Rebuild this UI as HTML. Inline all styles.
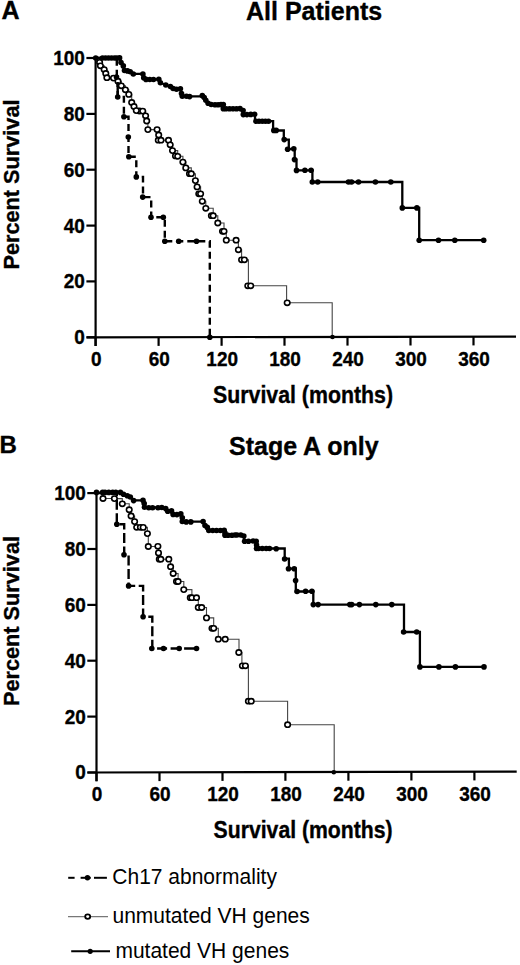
<!DOCTYPE html>
<html><head><meta charset="utf-8"><style>
html,body{margin:0;padding:0;background:#fff;}
body{width:520px;height:965px;overflow:hidden;}
svg{display:block;}
</style></head><body>
<svg width="520" height="965" viewBox="0 0 520 965">
<rect width="520" height="965" fill="#fff"/>
<g font-family="&quot;Liberation Sans&quot;, sans-serif" fill="#000">
<text x="1.4" y="18.8" font-size="25" font-weight="bold" text-anchor="start" stroke="#000" stroke-width="0.35">A</text>
<text x="246" y="20.3" font-size="25" font-weight="bold" text-anchor="start" stroke="#000" stroke-width="0.35">All Patients</text>
<text x="0" y="0" font-size="22" font-weight="bold" text-anchor="start" stroke="#000" stroke-width="0.35" transform="translate(18.6 269.5) rotate(-90)" textLength="170" lengthAdjust="spacingAndGlyphs">Percent Survival</text>
<text x="213" y="402.8" font-size="23" font-weight="bold" text-anchor="start" stroke="#000" stroke-width="0.35" textLength="180" lengthAdjust="spacingAndGlyphs">Survival (months)</text>
<line x1="95.6" y1="57" x2="95.6" y2="346" stroke="#000" stroke-width="2.2"/>
<line x1="86.6" y1="337.3" x2="516" y2="336.6" stroke="#000" stroke-width="2.2"/>
<line x1="86.4" y1="58" x2="95.6" y2="58" stroke="#000" stroke-width="2.2"/>
<line x1="86.4" y1="113.9" x2="95.6" y2="113.9" stroke="#000" stroke-width="2.2"/>
<line x1="86.4" y1="169.7" x2="95.6" y2="169.7" stroke="#000" stroke-width="2.2"/>
<line x1="86.4" y1="225.6" x2="95.6" y2="225.6" stroke="#000" stroke-width="2.2"/>
<line x1="86.4" y1="281.4" x2="95.6" y2="281.4" stroke="#000" stroke-width="2.2"/>
<line x1="86.4" y1="337.3" x2="95.6" y2="337.3" stroke="#000" stroke-width="2.2"/>
<line x1="95.6" y1="337.3" x2="95.6" y2="346" stroke="#000" stroke-width="2.2"/>
<line x1="158.6" y1="337.2" x2="158.6" y2="345.9" stroke="#000" stroke-width="2.2"/>
<line x1="221.6" y1="337.1" x2="221.6" y2="345.8" stroke="#000" stroke-width="2.2"/>
<line x1="284.5" y1="337" x2="284.5" y2="345.7" stroke="#000" stroke-width="2.2"/>
<line x1="347.5" y1="336.9" x2="347.5" y2="345.6" stroke="#000" stroke-width="2.2"/>
<line x1="410.5" y1="336.8" x2="410.5" y2="345.5" stroke="#000" stroke-width="2.2"/>
<line x1="473.5" y1="336.7" x2="473.5" y2="345.4" stroke="#000" stroke-width="2.2"/>
<text x="0" y="0" font-size="20.3" font-weight="bold" text-anchor="end" stroke="#000" stroke-width="0.35" transform="translate(84.9 64.9) scale(0.935 1)">100</text>
<text x="0" y="0" font-size="20.3" font-weight="bold" text-anchor="end" stroke="#000" stroke-width="0.35" transform="translate(84.9 120.8) scale(0.935 1)">80</text>
<text x="0" y="0" font-size="20.3" font-weight="bold" text-anchor="end" stroke="#000" stroke-width="0.35" transform="translate(84.9 176.6) scale(0.935 1)">60</text>
<text x="0" y="0" font-size="20.3" font-weight="bold" text-anchor="end" stroke="#000" stroke-width="0.35" transform="translate(84.9 232.5) scale(0.935 1)">40</text>
<text x="0" y="0" font-size="20.3" font-weight="bold" text-anchor="end" stroke="#000" stroke-width="0.35" transform="translate(84.9 288.3) scale(0.935 1)">20</text>
<text x="0" y="0" font-size="20.3" font-weight="bold" text-anchor="end" stroke="#000" stroke-width="0.35" transform="translate(84.9 344.2) scale(0.935 1)">0</text>
<text x="0" y="0" font-size="20.3" font-weight="bold" text-anchor="middle" stroke="#000" stroke-width="0.35" transform="translate(96.2 365.8) scale(0.935 1)">0</text>
<text x="0" y="0" font-size="20.3" font-weight="bold" text-anchor="middle" stroke="#000" stroke-width="0.35" transform="translate(159.2 365.8) scale(0.935 1)">60</text>
<text x="0" y="0" font-size="20.3" font-weight="bold" text-anchor="middle" stroke="#000" stroke-width="0.35" transform="translate(222.2 365.8) scale(0.935 1)">120</text>
<text x="0" y="0" font-size="20.3" font-weight="bold" text-anchor="middle" stroke="#000" stroke-width="0.35" transform="translate(285.1 365.8) scale(0.935 1)">180</text>
<text x="0" y="0" font-size="20.3" font-weight="bold" text-anchor="middle" stroke="#000" stroke-width="0.35" transform="translate(348.1 365.8) scale(0.935 1)">240</text>
<text x="0" y="0" font-size="20.3" font-weight="bold" text-anchor="middle" stroke="#000" stroke-width="0.35" transform="translate(411.1 365.8) scale(0.935 1)">300</text>
<text x="0" y="0" font-size="20.3" font-weight="bold" text-anchor="middle" stroke="#000" stroke-width="0.35" transform="translate(474.1 365.8) scale(0.935 1)">360</text>
<path d="M95.6 58 L99.6 58 L99.6 62.3 L100.4 62.3 L100.4 65.8 L104.2 65.8 L104.2 69.6 L105.8 69.6 L105.8 73.5 L106.9 73.5 L106.9 77.7 L113.5 77.7 L113.5 78.1 L118 78.1 L118 81.2 L121.3 81.2 L121.3 85.8 L125.4 85.8 L125.4 89.8 L128.8 89.8 L128.8 94.4 L131.7 94.4 L131.7 102.5 L134 102.5 L134 106.5 L136.3 106.5 L136.3 110.6 L142.7 110.6 L142.7 111.1 L145.6 111.1 L145.6 115.8 L146.7 115.8 L146.7 121 L147.9 121 L147.9 129.6 L157.1 129.6 L158.7 129.6 L158.7 135 L161 135 L161 140.2 L168.5 140.2 L170.2 140.2 L170.2 144.8 L172.5 144.8 L172.5 150.6 L177.7 150.6 L177.7 156.3 L182.9 156.3 L182.9 162.1 L185.8 162.1 L185.8 167.9 L191.3 167.9 L191.3 173.7 L195.4 173.7 L195.4 180.6 L197.1 180.6 L197.1 186.9 L200.6 186.9 L200.6 193.8 L202.3 193.8 L202.3 201.3 L205.8 201.3 L205.8 208.3 L213.2 208.3 L213.2 215.7 L217.8 215.7 L217.8 223 L224 223 L224 231.3 L226.3 231.3 L226.3 240.2 L236.1 240.2 L238.4 240.2 L238.4 249.8 L241.6 249.8 L241.6 259.8 L244.4 259.8 L248.4 259.8 L248.4 285.8 L286.6 285.8 L286.6 302.8 L332.2 302.8 L332.2 336.7" fill="none" stroke="#444" stroke-width="1.1" stroke-linejoin="miter"/>
<path d="M95.6 58 L116.8 58 L116.8 77 L117.7 77 L117.7 97 L123.9 97 L123.9 116.8 L128.5 116.8 L128.5 137 L128.5 156.8 L136.3 156.8 L136.3 176.9 L143 176.9 L143 197.1 L151.2 197.1 L151.2 217.3 L164.8 217.3 L164.8 241.3 L209.8 241.3 L209.8 337.3" fill="none" stroke="#000" stroke-width="2.4" stroke-linejoin="miter" stroke-dasharray="7 4"/>
<path d="M95.6 58 L119.6 58 L121 62.5 L123.3 65.9 L124.5 70.5 L127.5 70.9 L130.2 71.7 L133.3 73.8 L142.9 73.8 L143.7 77.8 L146 79.4 L158.8 79.4 L160.4 82.7 L165.8 85 L170.4 86.5 L173.1 88.5 L180.4 88.5 L181.5 93.5 L182.3 96.3 L202 96.3 L204.2 97.5 L205.8 100.2 L208.1 103.3 L211.2 104.6 L223.3 104.6 L223.3 108.8 L240.5 108.8 L243.1 110.5 L243.3 114.5 L255 114.5 L255 121.2 L273.1 121.2 L273.1 130.5 L283.8 130.5 L283.8 139.6 L288.8 139.6 L288.8 149 L294.7 149 L294.7 159.6 L296.5 159.6 L296.5 170.3 L312.4 170.3 L312.4 182 L402.3 182 L402.3 207.9 L419.2 207.9 L419.2 240.2 L483.7 240.2" fill="none" stroke="#000" stroke-width="2.3" stroke-linejoin="miter"/>
<ellipse cx="139.5" cy="111" rx="2.75" ry="2.6" fill="#fff" stroke="#000" stroke-width="1.6"/>
<ellipse cx="158.3" cy="140.2" rx="2.75" ry="2.6" fill="#fff" stroke="#000" stroke-width="1.6"/>
<ellipse cx="175.5" cy="155.9" rx="2.75" ry="2.6" fill="#fff" stroke="#000" stroke-width="1.6"/>
<ellipse cx="189.5" cy="173.7" rx="2.75" ry="2.6" fill="#fff" stroke="#000" stroke-width="1.6"/>
<ellipse cx="198.8" cy="193.8" rx="2.75" ry="2.6" fill="#fff" stroke="#000" stroke-width="1.6"/>
<ellipse cx="211.4" cy="215.7" rx="2.75" ry="2.6" fill="#fff" stroke="#000" stroke-width="1.6"/>
<ellipse cx="222.5" cy="231.3" rx="2.75" ry="2.6" fill="#fff" stroke="#000" stroke-width="1.6"/>
<ellipse cx="99.6" cy="62.3" rx="2.75" ry="2.6" fill="#fff" stroke="#000" stroke-width="1.6"/>
<ellipse cx="100.4" cy="65.8" rx="2.75" ry="2.6" fill="#fff" stroke="#000" stroke-width="1.6"/>
<ellipse cx="104.2" cy="69.6" rx="2.75" ry="2.6" fill="#fff" stroke="#000" stroke-width="1.6"/>
<ellipse cx="105.8" cy="73.5" rx="2.75" ry="2.6" fill="#fff" stroke="#000" stroke-width="1.6"/>
<ellipse cx="106.9" cy="77.7" rx="2.75" ry="2.6" fill="#fff" stroke="#000" stroke-width="1.6"/>
<ellipse cx="113.5" cy="78.1" rx="2.75" ry="2.6" fill="#fff" stroke="#000" stroke-width="1.6"/>
<ellipse cx="118" cy="81.2" rx="2.75" ry="2.6" fill="#fff" stroke="#000" stroke-width="1.6"/>
<ellipse cx="121.3" cy="85.8" rx="2.75" ry="2.6" fill="#fff" stroke="#000" stroke-width="1.6"/>
<ellipse cx="125.4" cy="89.8" rx="2.75" ry="2.6" fill="#fff" stroke="#000" stroke-width="1.6"/>
<ellipse cx="128.8" cy="94.4" rx="2.75" ry="2.6" fill="#fff" stroke="#000" stroke-width="1.6"/>
<ellipse cx="131.7" cy="102.5" rx="2.75" ry="2.6" fill="#fff" stroke="#000" stroke-width="1.6"/>
<ellipse cx="134" cy="106.5" rx="2.75" ry="2.6" fill="#fff" stroke="#000" stroke-width="1.6"/>
<ellipse cx="136.3" cy="110.6" rx="2.75" ry="2.6" fill="#fff" stroke="#000" stroke-width="1.6"/>
<ellipse cx="142.7" cy="111.1" rx="2.75" ry="2.6" fill="#fff" stroke="#000" stroke-width="1.6"/>
<ellipse cx="145.6" cy="115.8" rx="2.75" ry="2.6" fill="#fff" stroke="#000" stroke-width="1.6"/>
<ellipse cx="146.7" cy="121" rx="2.75" ry="2.6" fill="#fff" stroke="#000" stroke-width="1.6"/>
<ellipse cx="147.9" cy="129.6" rx="2.75" ry="2.6" fill="#fff" stroke="#000" stroke-width="1.6"/>
<ellipse cx="157.1" cy="129.6" rx="2.75" ry="2.6" fill="#fff" stroke="#000" stroke-width="1.6"/>
<ellipse cx="158.7" cy="135" rx="2.75" ry="2.6" fill="#fff" stroke="#000" stroke-width="1.6"/>
<ellipse cx="161" cy="140.2" rx="2.75" ry="2.6" fill="#fff" stroke="#000" stroke-width="1.6"/>
<ellipse cx="168.5" cy="140.2" rx="2.75" ry="2.6" fill="#fff" stroke="#000" stroke-width="1.6"/>
<ellipse cx="170.2" cy="144.8" rx="2.75" ry="2.6" fill="#fff" stroke="#000" stroke-width="1.6"/>
<ellipse cx="172.5" cy="150.6" rx="2.75" ry="2.6" fill="#fff" stroke="#000" stroke-width="1.6"/>
<ellipse cx="177.7" cy="156.3" rx="2.75" ry="2.6" fill="#fff" stroke="#000" stroke-width="1.6"/>
<ellipse cx="182.9" cy="162.1" rx="2.75" ry="2.6" fill="#fff" stroke="#000" stroke-width="1.6"/>
<ellipse cx="185.8" cy="167.9" rx="2.75" ry="2.6" fill="#fff" stroke="#000" stroke-width="1.6"/>
<ellipse cx="191.3" cy="173.7" rx="2.75" ry="2.6" fill="#fff" stroke="#000" stroke-width="1.6"/>
<ellipse cx="195.4" cy="180.6" rx="2.75" ry="2.6" fill="#fff" stroke="#000" stroke-width="1.6"/>
<ellipse cx="197.1" cy="186.9" rx="2.75" ry="2.6" fill="#fff" stroke="#000" stroke-width="1.6"/>
<ellipse cx="200.6" cy="193.8" rx="2.75" ry="2.6" fill="#fff" stroke="#000" stroke-width="1.6"/>
<ellipse cx="202.3" cy="201.3" rx="2.75" ry="2.6" fill="#fff" stroke="#000" stroke-width="1.6"/>
<ellipse cx="205.8" cy="208.3" rx="2.75" ry="2.6" fill="#fff" stroke="#000" stroke-width="1.6"/>
<ellipse cx="213.2" cy="215.7" rx="2.75" ry="2.6" fill="#fff" stroke="#000" stroke-width="1.6"/>
<ellipse cx="217.8" cy="223" rx="2.75" ry="2.6" fill="#fff" stroke="#000" stroke-width="1.6"/>
<ellipse cx="224" cy="231.3" rx="2.75" ry="2.6" fill="#fff" stroke="#000" stroke-width="1.6"/>
<ellipse cx="226.3" cy="240.2" rx="2.75" ry="2.6" fill="#fff" stroke="#000" stroke-width="1.6"/>
<ellipse cx="236.1" cy="240.2" rx="2.75" ry="2.6" fill="#fff" stroke="#000" stroke-width="1.6"/>
<ellipse cx="238.4" cy="249.8" rx="2.75" ry="2.6" fill="#fff" stroke="#000" stroke-width="1.6"/>
<ellipse cx="241.6" cy="259.8" rx="2.75" ry="2.6" fill="#fff" stroke="#000" stroke-width="1.6"/>
<ellipse cx="244.4" cy="259.8" rx="2.75" ry="2.6" fill="#fff" stroke="#000" stroke-width="1.6"/>
<ellipse cx="247.8" cy="285.8" rx="2.75" ry="2.6" fill="#fff" stroke="#000" stroke-width="1.6"/>
<ellipse cx="250.7" cy="285.8" rx="2.75" ry="2.6" fill="#fff" stroke="#000" stroke-width="1.6"/>
<ellipse cx="287.2" cy="302.8" rx="2.75" ry="2.6" fill="#fff" stroke="#000" stroke-width="1.6"/>
<circle cx="332.5" cy="337" r="2.3"/>
<line x1="117.7" y1="82" x2="117.7" y2="97" stroke="#000" stroke-width="2.4"/>
<circle cx="116.5" cy="77" r="2.8"/>
<circle cx="117.7" cy="97" r="2.8"/>
<circle cx="123.9" cy="116.8" r="2.8"/>
<circle cx="128.3" cy="137" r="2.8"/>
<circle cx="128.8" cy="156.8" r="2.8"/>
<circle cx="136.3" cy="176.9" r="2.8"/>
<circle cx="142.7" cy="197.1" r="2.8"/>
<circle cx="151" cy="217.3" r="2.8"/>
<circle cx="163.3" cy="217.3" r="2.8"/>
<circle cx="164.8" cy="241.3" r="2.8"/>
<circle cx="178.7" cy="241.3" r="2.8"/>
<circle cx="196.5" cy="241.3" r="2.8"/>
<circle cx="209.8" cy="337.3" r="2.8"/>
<circle cx="95.7" cy="58" r="2.8"/>
<circle cx="102.5" cy="58" r="2.8"/>
<circle cx="105.5" cy="58" r="2.8"/>
<circle cx="108.5" cy="58" r="2.8"/>
<circle cx="111.5" cy="58" r="2.8"/>
<circle cx="114.5" cy="58" r="2.8"/>
<circle cx="116.8" cy="58" r="2.8"/>
<circle cx="119.6" cy="57.9" r="2.8"/>
<circle cx="121" cy="62.5" r="2.8"/>
<circle cx="123.3" cy="65.9" r="2.8"/>
<circle cx="124.5" cy="70.5" r="2.8"/>
<circle cx="127.5" cy="70.9" r="2.8"/>
<circle cx="130.2" cy="71.7" r="2.8"/>
<circle cx="133.3" cy="74" r="2.8"/>
<circle cx="142.9" cy="74" r="2.8"/>
<circle cx="143.7" cy="77.8" r="2.8"/>
<circle cx="146" cy="79.4" r="2.8"/>
<circle cx="149.8" cy="79.5" r="2.8"/>
<circle cx="153.5" cy="79.5" r="2.8"/>
<circle cx="158.8" cy="79.2" r="2.8"/>
<circle cx="160.4" cy="82.7" r="2.8"/>
<circle cx="165.8" cy="85" r="2.8"/>
<circle cx="170.4" cy="86.5" r="2.8"/>
<circle cx="173.1" cy="88.5" r="2.8"/>
<circle cx="176.5" cy="89.2" r="2.8"/>
<circle cx="180.4" cy="88.8" r="2.8"/>
<circle cx="181.5" cy="93.5" r="2.8"/>
<circle cx="182.3" cy="96.2" r="2.8"/>
<circle cx="186.5" cy="96.2" r="2.8"/>
<circle cx="189.6" cy="96.6" r="2.8"/>
<circle cx="202.3" cy="95.6" r="2.8"/>
<circle cx="204.2" cy="97.5" r="2.8"/>
<circle cx="205.8" cy="100.2" r="2.8"/>
<circle cx="208.1" cy="103.3" r="2.8"/>
<circle cx="211.2" cy="104.5" r="2.8"/>
<circle cx="215" cy="104.8" r="2.8"/>
<circle cx="218.1" cy="104.8" r="2.8"/>
<circle cx="221" cy="104.6" r="2.8"/>
<circle cx="223.3" cy="104.5" r="2.8"/>
<circle cx="223.3" cy="108.8" r="2.8"/>
<circle cx="226" cy="108.8" r="2.8"/>
<circle cx="229.5" cy="108.8" r="2.8"/>
<circle cx="233" cy="108.8" r="2.8"/>
<circle cx="236.5" cy="108.8" r="2.8"/>
<circle cx="240" cy="108.6" r="2.8"/>
<circle cx="243.1" cy="110.5" r="2.8"/>
<circle cx="243.3" cy="114.6" r="2.8"/>
<circle cx="246.9" cy="114.6" r="2.8"/>
<circle cx="250.8" cy="114.4" r="2.8"/>
<circle cx="254.6" cy="114.2" r="2.8"/>
<circle cx="256" cy="121.2" r="2.8"/>
<circle cx="259" cy="121.2" r="2.8"/>
<circle cx="262.3" cy="121.2" r="2.8"/>
<circle cx="265.4" cy="121.2" r="2.8"/>
<circle cx="268.5" cy="121.2" r="2.8"/>
<circle cx="273.8" cy="130.4" r="2.8"/>
<circle cx="276.2" cy="130.4" r="2.8"/>
<circle cx="284.2" cy="139.6" r="2.8"/>
<circle cx="287.6" cy="149.2" r="2.8"/>
<circle cx="293.8" cy="148.8" r="2.8"/>
<circle cx="294.5" cy="159.6" r="2.8"/>
<circle cx="296.5" cy="170.4" r="2.8"/>
<circle cx="304.9" cy="170.2" r="2.8"/>
<circle cx="311.1" cy="170.2" r="2.8"/>
<circle cx="312.3" cy="182" r="2.8"/>
<circle cx="317.7" cy="182" r="2.8"/>
<circle cx="348.5" cy="182" r="2.8"/>
<circle cx="351.5" cy="182" r="2.8"/>
<circle cx="358.5" cy="182" r="2.8"/>
<circle cx="375.4" cy="182" r="2.8"/>
<circle cx="390.8" cy="182" r="2.8"/>
<circle cx="402.3" cy="207.9" r="2.8"/>
<circle cx="416.9" cy="207.9" r="2.8"/>
<circle cx="419.2" cy="240.2" r="2.8"/>
<circle cx="438.5" cy="240.2" r="2.8"/>
<circle cx="454.8" cy="240.2" r="2.8"/>
<circle cx="483.7" cy="240.2" r="2.8"/>
<text x="-0.4" y="453.4" font-size="24" font-weight="bold" text-anchor="start" stroke="#000" stroke-width="0.35">B</text>
<text x="229" y="455.2" font-size="25" font-weight="bold" text-anchor="start" stroke="#000" stroke-width="0.35">Stage A only</text>
<text x="0" y="0" font-size="22" font-weight="bold" text-anchor="start" stroke="#000" stroke-width="0.35" transform="translate(18.6 706) rotate(-90)" textLength="170" lengthAdjust="spacingAndGlyphs">Percent Survival</text>
<text x="213.6" y="837.9" font-size="23" font-weight="bold" text-anchor="start" stroke="#000" stroke-width="0.35" textLength="179" lengthAdjust="spacingAndGlyphs">Survival (months)</text>
<line x1="96.5" y1="492.1" x2="96.5" y2="781.2" stroke="#000" stroke-width="2.2"/>
<line x1="87.5" y1="772.5" x2="516.7" y2="771.6" stroke="#000" stroke-width="2.2"/>
<line x1="87.3" y1="493.1" x2="96.5" y2="493.1" stroke="#000" stroke-width="2.2"/>
<line x1="87.3" y1="549" x2="96.5" y2="549" stroke="#000" stroke-width="2.2"/>
<line x1="87.3" y1="604.9" x2="96.5" y2="604.9" stroke="#000" stroke-width="2.2"/>
<line x1="87.3" y1="660.7" x2="96.5" y2="660.7" stroke="#000" stroke-width="2.2"/>
<line x1="87.3" y1="716.6" x2="96.5" y2="716.6" stroke="#000" stroke-width="2.2"/>
<line x1="87.3" y1="772.5" x2="96.5" y2="772.5" stroke="#000" stroke-width="2.2"/>
<line x1="96.5" y1="772.5" x2="96.5" y2="781.2" stroke="#000" stroke-width="2.2"/>
<line x1="159.5" y1="772.4" x2="159.5" y2="781.1" stroke="#000" stroke-width="2.2"/>
<line x1="222.5" y1="772.2" x2="222.5" y2="780.9" stroke="#000" stroke-width="2.2"/>
<line x1="285.4" y1="772.1" x2="285.4" y2="780.8" stroke="#000" stroke-width="2.2"/>
<line x1="348.4" y1="772" x2="348.4" y2="780.7" stroke="#000" stroke-width="2.2"/>
<line x1="411.4" y1="771.8" x2="411.4" y2="780.5" stroke="#000" stroke-width="2.2"/>
<line x1="474.4" y1="771.7" x2="474.4" y2="780.4" stroke="#000" stroke-width="2.2"/>
<text x="0" y="0" font-size="20.3" font-weight="bold" text-anchor="end" stroke="#000" stroke-width="0.35" transform="translate(85.8 500) scale(0.935 1)">100</text>
<text x="0" y="0" font-size="20.3" font-weight="bold" text-anchor="end" stroke="#000" stroke-width="0.35" transform="translate(85.8 555.9) scale(0.935 1)">80</text>
<text x="0" y="0" font-size="20.3" font-weight="bold" text-anchor="end" stroke="#000" stroke-width="0.35" transform="translate(85.8 611.8) scale(0.935 1)">60</text>
<text x="0" y="0" font-size="20.3" font-weight="bold" text-anchor="end" stroke="#000" stroke-width="0.35" transform="translate(85.8 667.6) scale(0.935 1)">40</text>
<text x="0" y="0" font-size="20.3" font-weight="bold" text-anchor="end" stroke="#000" stroke-width="0.35" transform="translate(85.8 723.5) scale(0.935 1)">20</text>
<text x="0" y="0" font-size="20.3" font-weight="bold" text-anchor="end" stroke="#000" stroke-width="0.35" transform="translate(85.8 779.4) scale(0.935 1)">0</text>
<text x="0" y="0" font-size="20.3" font-weight="bold" text-anchor="middle" stroke="#000" stroke-width="0.35" transform="translate(97.1 800.8) scale(0.935 1)">0</text>
<text x="0" y="0" font-size="20.3" font-weight="bold" text-anchor="middle" stroke="#000" stroke-width="0.35" transform="translate(160.1 800.8) scale(0.935 1)">60</text>
<text x="0" y="0" font-size="20.3" font-weight="bold" text-anchor="middle" stroke="#000" stroke-width="0.35" transform="translate(223.1 800.8) scale(0.935 1)">120</text>
<text x="0" y="0" font-size="20.3" font-weight="bold" text-anchor="middle" stroke="#000" stroke-width="0.35" transform="translate(286 800.8) scale(0.935 1)">180</text>
<text x="0" y="0" font-size="20.3" font-weight="bold" text-anchor="middle" stroke="#000" stroke-width="0.35" transform="translate(349 800.8) scale(0.935 1)">240</text>
<text x="0" y="0" font-size="20.3" font-weight="bold" text-anchor="middle" stroke="#000" stroke-width="0.35" transform="translate(412 800.8) scale(0.935 1)">300</text>
<text x="0" y="0" font-size="20.3" font-weight="bold" text-anchor="middle" stroke="#000" stroke-width="0.35" transform="translate(475 800.8) scale(0.935 1)">360</text>
<path d="M96.5 493.1 L103 493.1 L103 498.5 L114.4 498.5 L114.4 498.6 L122.3 498.6 L122.3 503.8 L129.2 503.8 L129.2 509.7 L131.1 509.7 L131.1 516 L134.6 516 L134.6 521.6 L136.7 521.6 L136.7 527.3 L140.4 527.3 L143.2 527.3 L143.2 527.4 L147.4 527.4 L147.4 533.6 L148.3 533.6 L148.3 546.5 L157.9 546.5 L157.9 546.3 L158.5 546.3 L158.5 552.9 L160.8 552.9 L160.8 559.2 L168.8 559.2 L170.6 559.2 L170.6 566.7 L173.2 566.7 L173.2 573.5 L178.1 573.5 L178.1 581.5 L183.8 581.5 L183.8 589.6 L191.9 589.6 L191.9 597.7 L196.5 597.7 L198.3 597.7 L198.3 607.5 L201.7 607.5 L206.5 607.5 L206.5 617.9 L213.7 617.9 L213.7 628.3 L218.3 628.3 L218.3 639.2 L225.2 639.2 L239 639.2 L239 652.5 L241.9 652.5 L241.9 665.8 L248.4 665.8 L248.4 701.2 L287.6 701.2 L287.6 724.7 L334.2 724.7 L334.2 772.2" fill="none" stroke="#444" stroke-width="1.1" stroke-linejoin="miter"/>
<path d="M96.5 493.1 L116.8 493.1 L116.8 524.2 L124.2 524.2 L124.2 554.7 L128.6 554.7 L128.6 585.9 L143.1 585.9 L143.1 616.8 L152.3 616.8 L152.3 648.5 L196.5 648.5" fill="none" stroke="#000" stroke-width="2.4" stroke-linejoin="miter" stroke-dasharray="10 3.5"/>
<path d="M96.5 492.6 L120.4 492.6 L123.5 494.3 L127.3 495.8 L130.3 497 L133.4 500.4 L143 500.4 L144.2 503.5 L144.5 507.5 L161.8 507.5 L165.7 508.6 L167.7 511.3 L171.5 510.9 L173.1 514.4 L180.8 514.4 L182.3 517.7 L182.3 521.7 L203.1 521.7 L205 525.5 L207.3 527.4 L208.8 530.5 L224.6 530.5 L224.6 535.2 L243.8 535.2 L244.6 541.2 L256.5 541.2 L256.5 548.5 L284.7 548.5 L284.7 558.6 L288.9 558.6 L288.9 568.7 L295.8 568.7 L295.8 591.5 L313.3 591.5 L313.3 604.6 L404 604.6 L404 632 L419.9 632 L419.9 666.9 L484 666.9" fill="none" stroke="#000" stroke-width="2.3" stroke-linejoin="miter"/>
<ellipse cx="159.3" cy="559.2" rx="2.75" ry="2.6" fill="#fff" stroke="#000" stroke-width="1.6"/>
<ellipse cx="176.5" cy="581.5" rx="2.75" ry="2.6" fill="#fff" stroke="#000" stroke-width="1.6"/>
<ellipse cx="190.3" cy="597.7" rx="2.75" ry="2.6" fill="#fff" stroke="#000" stroke-width="1.6"/>
<ellipse cx="212" cy="628.3" rx="2.75" ry="2.6" fill="#fff" stroke="#000" stroke-width="1.6"/>
<ellipse cx="103" cy="498.5" rx="2.75" ry="2.6" fill="#fff" stroke="#000" stroke-width="1.6"/>
<ellipse cx="114.4" cy="498.6" rx="2.75" ry="2.6" fill="#fff" stroke="#000" stroke-width="1.6"/>
<ellipse cx="122.3" cy="503.8" rx="2.75" ry="2.6" fill="#fff" stroke="#000" stroke-width="1.6"/>
<ellipse cx="129.2" cy="509.7" rx="2.75" ry="2.6" fill="#fff" stroke="#000" stroke-width="1.6"/>
<ellipse cx="131.1" cy="516" rx="2.75" ry="2.6" fill="#fff" stroke="#000" stroke-width="1.6"/>
<ellipse cx="134.6" cy="521.6" rx="2.75" ry="2.6" fill="#fff" stroke="#000" stroke-width="1.6"/>
<ellipse cx="136.7" cy="527.3" rx="2.75" ry="2.6" fill="#fff" stroke="#000" stroke-width="1.6"/>
<ellipse cx="140.4" cy="527.3" rx="2.75" ry="2.6" fill="#fff" stroke="#000" stroke-width="1.6"/>
<ellipse cx="143.2" cy="527.4" rx="2.75" ry="2.6" fill="#fff" stroke="#000" stroke-width="1.6"/>
<ellipse cx="147.4" cy="533.6" rx="2.75" ry="2.6" fill="#fff" stroke="#000" stroke-width="1.6"/>
<ellipse cx="148.3" cy="546.5" rx="2.75" ry="2.6" fill="#fff" stroke="#000" stroke-width="1.6"/>
<ellipse cx="157.9" cy="546.3" rx="2.75" ry="2.6" fill="#fff" stroke="#000" stroke-width="1.6"/>
<ellipse cx="158.5" cy="552.9" rx="2.75" ry="2.6" fill="#fff" stroke="#000" stroke-width="1.6"/>
<ellipse cx="160.8" cy="559.2" rx="2.75" ry="2.6" fill="#fff" stroke="#000" stroke-width="1.6"/>
<ellipse cx="168.8" cy="559.2" rx="2.75" ry="2.6" fill="#fff" stroke="#000" stroke-width="1.6"/>
<ellipse cx="170.6" cy="566.7" rx="2.75" ry="2.6" fill="#fff" stroke="#000" stroke-width="1.6"/>
<ellipse cx="173.2" cy="573.5" rx="2.75" ry="2.6" fill="#fff" stroke="#000" stroke-width="1.6"/>
<ellipse cx="178.1" cy="581.5" rx="2.75" ry="2.6" fill="#fff" stroke="#000" stroke-width="1.6"/>
<ellipse cx="183.8" cy="589.6" rx="2.75" ry="2.6" fill="#fff" stroke="#000" stroke-width="1.6"/>
<ellipse cx="191.9" cy="597.7" rx="2.75" ry="2.6" fill="#fff" stroke="#000" stroke-width="1.6"/>
<ellipse cx="196.5" cy="597.7" rx="2.75" ry="2.6" fill="#fff" stroke="#000" stroke-width="1.6"/>
<ellipse cx="198.3" cy="607.5" rx="2.75" ry="2.6" fill="#fff" stroke="#000" stroke-width="1.6"/>
<ellipse cx="201.7" cy="607.5" rx="2.75" ry="2.6" fill="#fff" stroke="#000" stroke-width="1.6"/>
<ellipse cx="206.5" cy="617.9" rx="2.75" ry="2.6" fill="#fff" stroke="#000" stroke-width="1.6"/>
<ellipse cx="213.7" cy="628.3" rx="2.75" ry="2.6" fill="#fff" stroke="#000" stroke-width="1.6"/>
<ellipse cx="218.3" cy="639.2" rx="2.75" ry="2.6" fill="#fff" stroke="#000" stroke-width="1.6"/>
<ellipse cx="225.2" cy="639.2" rx="2.75" ry="2.6" fill="#fff" stroke="#000" stroke-width="1.6"/>
<ellipse cx="238.8" cy="652.5" rx="2.75" ry="2.6" fill="#fff" stroke="#000" stroke-width="1.6"/>
<ellipse cx="242.4" cy="665.8" rx="2.75" ry="2.6" fill="#fff" stroke="#000" stroke-width="1.6"/>
<ellipse cx="245.4" cy="665.8" rx="2.75" ry="2.6" fill="#fff" stroke="#000" stroke-width="1.6"/>
<ellipse cx="248.4" cy="701.2" rx="2.75" ry="2.6" fill="#fff" stroke="#000" stroke-width="1.6"/>
<ellipse cx="251.2" cy="701.2" rx="2.75" ry="2.6" fill="#fff" stroke="#000" stroke-width="1.6"/>
<ellipse cx="287.6" cy="724.7" rx="2.75" ry="2.6" fill="#fff" stroke="#000" stroke-width="1.6"/>
<circle cx="333.8" cy="772.2" r="2.3"/>
<circle cx="116.8" cy="524.2" r="2.8"/>
<circle cx="124" cy="554.7" r="2.8"/>
<circle cx="128.6" cy="585.9" r="2.8"/>
<circle cx="143.1" cy="616.8" r="2.8"/>
<circle cx="151.8" cy="648.5" r="2.8"/>
<circle cx="163.5" cy="648.5" r="2.8"/>
<circle cx="179.2" cy="648.5" r="2.8"/>
<circle cx="196.5" cy="648.5" r="2.8"/>
<circle cx="96.5" cy="492.4" r="2.8"/>
<circle cx="102.6" cy="492.4" r="2.8"/>
<circle cx="105" cy="492.4" r="2.8"/>
<circle cx="108.8" cy="492.4" r="2.8"/>
<circle cx="112.7" cy="492.4" r="2.8"/>
<circle cx="115.8" cy="492.4" r="2.8"/>
<circle cx="120.4" cy="492.4" r="2.8"/>
<circle cx="123.5" cy="494.3" r="2.8"/>
<circle cx="127.3" cy="495.8" r="2.8"/>
<circle cx="130.3" cy="497" r="2.8"/>
<circle cx="133.6" cy="500.6" r="2.8"/>
<circle cx="143" cy="500.2" r="2.8"/>
<circle cx="144.2" cy="503.5" r="2.8"/>
<circle cx="144.5" cy="507.3" r="2.8"/>
<circle cx="148.8" cy="507.7" r="2.8"/>
<circle cx="152.6" cy="507.7" r="2.8"/>
<circle cx="158" cy="507.7" r="2.8"/>
<circle cx="161.8" cy="507.5" r="2.8"/>
<circle cx="165.7" cy="508.6" r="2.8"/>
<circle cx="167.7" cy="511.3" r="2.8"/>
<circle cx="171.5" cy="510.9" r="2.8"/>
<circle cx="173.1" cy="514.4" r="2.8"/>
<circle cx="176.9" cy="514.6" r="2.8"/>
<circle cx="180.8" cy="513.9" r="2.8"/>
<circle cx="182.3" cy="517.7" r="2.8"/>
<circle cx="182.3" cy="521.5" r="2.8"/>
<circle cx="186.2" cy="521.9" r="2.8"/>
<circle cx="190.8" cy="521.9" r="2.8"/>
<circle cx="203.1" cy="521.6" r="2.8"/>
<circle cx="205" cy="525.5" r="2.8"/>
<circle cx="207.3" cy="527.4" r="2.8"/>
<circle cx="208.8" cy="530.5" r="2.8"/>
<circle cx="212.7" cy="530.5" r="2.8"/>
<circle cx="216.5" cy="530.5" r="2.8"/>
<circle cx="220.4" cy="530.5" r="2.8"/>
<circle cx="224.2" cy="530.2" r="2.8"/>
<circle cx="225" cy="533" r="2.8"/>
<circle cx="225" cy="535.3" r="2.8"/>
<circle cx="228.1" cy="535.3" r="2.8"/>
<circle cx="231.9" cy="535.2" r="2.8"/>
<circle cx="235" cy="535" r="2.8"/>
<circle cx="237" cy="535" r="2.8"/>
<circle cx="240.8" cy="535" r="2.8"/>
<circle cx="243.8" cy="536" r="2.8"/>
<circle cx="244.6" cy="541.2" r="2.8"/>
<circle cx="248.5" cy="541.2" r="2.8"/>
<circle cx="253.1" cy="541" r="2.8"/>
<circle cx="256.2" cy="541.2" r="2.8"/>
<circle cx="256.5" cy="545" r="2.8"/>
<circle cx="256.5" cy="548.5" r="2.8"/>
<circle cx="258.5" cy="548.5" r="2.8"/>
<circle cx="262.3" cy="548.5" r="2.8"/>
<circle cx="266.2" cy="548.5" r="2.8"/>
<circle cx="269.5" cy="548.5" r="2.8"/>
<circle cx="276.2" cy="548.8" r="2.8"/>
<circle cx="284.6" cy="559" r="2.8"/>
<circle cx="288.5" cy="568.7" r="2.8"/>
<circle cx="294.2" cy="568.7" r="2.8"/>
<circle cx="295.6" cy="580.6" r="2.8"/>
<circle cx="297.1" cy="591.5" r="2.8"/>
<circle cx="305.6" cy="591.3" r="2.8"/>
<circle cx="311.9" cy="591.3" r="2.8"/>
<circle cx="313.3" cy="604.6" r="2.8"/>
<circle cx="318.1" cy="604.6" r="2.8"/>
<circle cx="349.8" cy="604.6" r="2.8"/>
<circle cx="351.7" cy="604.6" r="2.8"/>
<circle cx="359.4" cy="604.6" r="2.8"/>
<circle cx="375.8" cy="604.6" r="2.8"/>
<circle cx="391.8" cy="604.6" r="2.8"/>
<circle cx="403.6" cy="632" r="2.8"/>
<circle cx="416.7" cy="632" r="2.8"/>
<circle cx="419.9" cy="666.9" r="2.8"/>
<circle cx="438.9" cy="666.9" r="2.8"/>
<circle cx="455.4" cy="666.9" r="2.8"/>
<circle cx="484" cy="666.9" r="2.8"/>
<line x1="68.2" y1="877.8" x2="74.6" y2="877.8" stroke="#000" stroke-width="2.0"/>
<line x1="80.6" y1="877.8" x2="90.8" y2="877.8" stroke="#000" stroke-width="2.0"/>
<line x1="94" y1="877.8" x2="106.9" y2="877.8" stroke="#000" stroke-width="2.0"/>
<circle cx="87.5" cy="877.8" r="2.7"/>
<text x="0" y="0" font-size="22" font-weight="normal" text-anchor="start" transform="translate(112.3 883.6) scale(0.955 1)">Ch17 abnormality</text>
<line x1="68" y1="916.6" x2="108" y2="916.6" stroke="#777" stroke-width="1.2"/>
<ellipse cx="87.7" cy="916.6" rx="2.5" ry="2.3" fill="#fff" stroke="#000" stroke-width="1.8"/>
<text x="0" y="0" font-size="22" font-weight="normal" text-anchor="start" transform="translate(112.5 923.4) scale(0.955 1)">unmutated VH genes</text>
<line x1="71.2" y1="951.3" x2="110" y2="951.3" stroke="#000" stroke-width="2.0"/>
<circle cx="90.2" cy="951.3" r="2.6"/>
<text x="0" y="0" font-size="22" font-weight="normal" text-anchor="start" transform="translate(115.4 958) scale(0.955 1)">mutated VH genes</text>
</g>
</svg>
</body></html>
